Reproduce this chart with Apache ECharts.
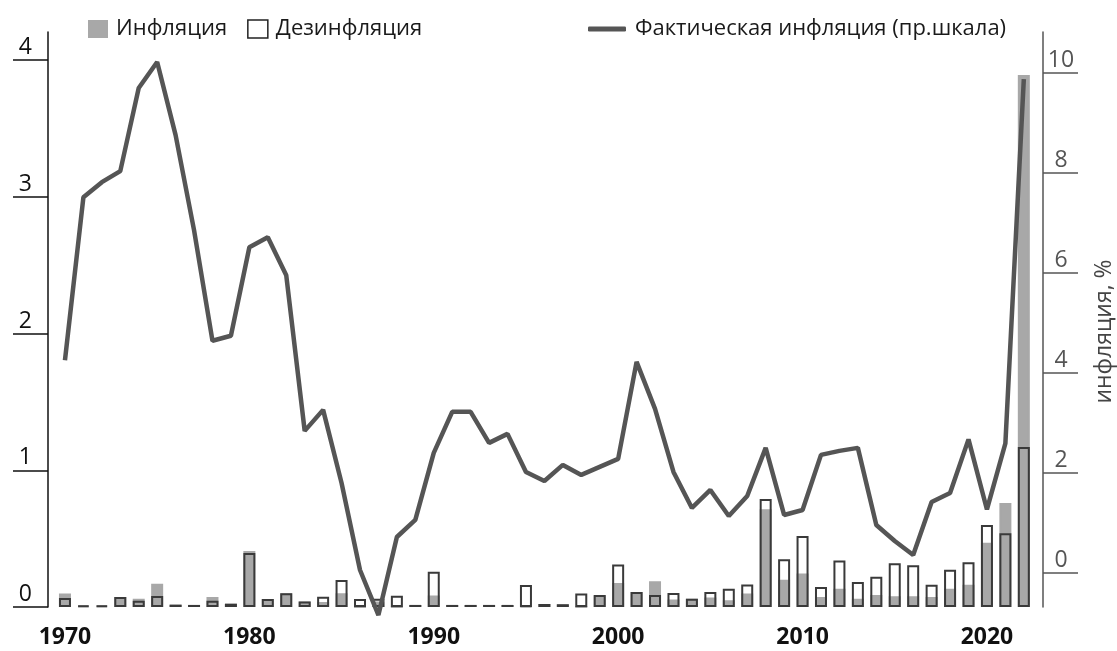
<!DOCTYPE html>
<html>
<head>
<meta charset="utf-8">
<script src="https://cdn.jsdelivr.net/npm/echarts@6/dist/echarts.min.js"></script>
<style>
  html, body { margin: 0; padding: 0; background: #fff; }
  #chart { width: 1117px; height: 651px; }
</style>
</head>
<body>
<div id="chart"></div>
<script>
// годы 1970..2022
var years = [];
for (var y = 1970; y <= 2022; y++) years.push(y);

// Инфляция (серые столбцы, левая шкала)
var inflation = [
  0.098, 0.01, 0.01, 0.073, 0.061, 0.17, 0.017, 0.015, 0.073, 0.024,
  0.41, 0.058, 0.10, 0.04, 0.037, 0.10, 0, 0.04, 0, 0.015,
  0.085, 0.015, 0.015, 0.015, 0.015, 0.005, 0.022, 0.02, 0, 0.085,
  0.176, 0.11, 0.188, 0.054, 0.061, 0.069, 0.049, 0.098, 0.715, 0.20,
  0.245, 0.073, 0.134, 0.061, 0.088, 0.078, 0.078, 0.073, 0.134, 0.163,
  0.47, 0.76, 3.89
];

// Дезинфляция (контурные столбцы, левая шкала)
var disinflation = [
  0.066, 0.01, 0.01, 0.073, 0.046, 0.08, 0.017, 0.015, 0.046, 0.024,
  0.395, 0.058, 0.10, 0.04, 0.075, 0.197, 0.058, 0.061, 0.083, 0.015,
  0.258, 0.015, 0.015, 0.015, 0.015, 0.16, 0.022, 0.02, 0.098, 0.088,
  0.31, 0.11, 0.088, 0.102, 0.061, 0.11, 0.134, 0.164, 0.79, 0.35,
  0.52, 0.147, 0.34, 0.183, 0.222, 0.32, 0.305, 0.163, 0.273, 0.327,
  0.60, 0.54, 1.17
];

// Фактическая инфляция, % (правая шкала)
var actual = [
  4.25, 7.51, 7.81, 8.03, 9.69, 10.21, 8.75, 6.85, 4.64, 4.74,
  6.51, 6.71, 5.95, 2.84, 3.26, 1.80, 0.06, -0.84, 0.72, 1.06,
  2.40, 3.22, 3.22, 2.60, 2.78, 2.02, 1.84, 2.16, 1.96, 2.12,
  2.28, 4.22, 3.28, 2.02, 1.30, 1.66, 1.14, 1.54, 2.50, 1.16,
  1.26, 2.36, 2.44, 2.50, 0.96, 0.64, 0.36, 1.42, 1.60, 2.67,
  1.27, 2.59, 9.87
];

var xLabels = [1970, 1980, 1990, 2000, 2010, 2020];
var leftTicks = [0, 1, 2, 3, 4];
var rightTicks = [0, 2, 4, 6, 8, 10];

function pairs(vals) {
  return vals.map(function (v, i) { return [years[i], v]; });
}

var font = 'Open Sans';
var chart = echarts.init(document.getElementById('chart'));

chart.setOption({
  animation: false,
  textStyle: { fontFamily: font },
  grid: { left: 48, right: 74, top: 32, bottom: 44, containLabel: false, outerBoundsMode: 'none' },
  legend: [
    {
      left: 83, top: 13,
      itemWidth: 20, itemHeight: 18, itemGap: 20,
      textStyle: { fontSize: 22, color: '#1a1a1a', fontFamily: font, padding: [0, 0, 0, 3] },
      data: [
        { name: 'Инфляция', icon: 'rect', itemStyle: { color: '#a8a8a8', borderWidth: 0 } },
        { name: 'Дезинфляция', icon: 'rect', itemStyle: { color: '#fff', borderColor: '#222', borderWidth: 1.5 } }
      ]
    },
    {
      left: 583, top: 13,
      itemWidth: 38, itemHeight: 5,
      textStyle: { fontSize: 22, color: '#1a1a1a', fontFamily: font, padding: [0, 0, 0, 4] },
      data: [{ name: 'Фактическая инфляция (пр.шкала)', icon: 'roundRect', itemStyle: { color: '#555' } }]
    }
  ],
  xAxis: {
    type: 'value',
    min: 1969.08,
    max: 2023.04,
    splitLine: { show: false },
    axisLine: { show: false },
    axisTick: { show: false },
    axisLabel: {
      customValues: xLabels,
      formatter: function (v) { return String(v); },
      fontSize: 23, fontWeight: 'bold', color: '#111', margin: 19
    }
  },
  yAxis: [
    {
      type: 'value',
      min: 0, max: 4.205,
      splitLine: { show: false },
      axisLine: { show: true, lineStyle: { color: '#111', width: 1.5 } },
      axisTick: { show: true, customValues: leftTicks, length: 35, lineStyle: { color: '#111', width: 1.5 } },
      axisLabel: {
        customValues: leftTicks,
        fontSize: 23, color: '#111', align: 'right', margin: 16,
        verticalAlign: 'bottom', padding: [0, 0, 1, 0]
      }
    },
    {
      type: 'value',
      position: 'right',
      min: -0.679, max: 10.81,
      name: 'инфляция, %',
      nameLocation: 'middle',
      nameGap: 50,
      nameRotate: 90,
      nameTextStyle: { fontSize: 23, color: '#444', fontFamily: font, padding: [0, 24, 0, 0] },
      splitLine: { show: false },
      axisLine: { show: true, lineStyle: { color: '#555', width: 1.5 } },
      axisTick: { show: true, customValues: rightTicks, length: 35, lineStyle: { color: '#555', width: 1.5 } },
      axisLabel: {
        customValues: rightTicks,
        fontSize: 23, color: '#555', align: 'center', margin: 18,
        verticalAlign: 'bottom', padding: [0, 0, 1, 0]
      }
    }
  ],
  series: [
    {
      name: 'Инфляция',
      type: 'bar',
      yAxisIndex: 0,
      barWidth: 12,
      barGap: '-100%',
      itemStyle: { color: '#a8a8a8', borderColor: '#a8a8a8', borderWidth: 2 },
      data: pairs(inflation),
      z: 2
    },
    {
      name: 'Дезинфляция',
      type: 'bar',
      yAxisIndex: 0,
      barWidth: 12,
      barGap: '-100%',
      itemStyle: { color: 'rgba(0,0,0,0)', borderColor: '#3a3a3a', borderWidth: 2 },
      data: pairs(disinflation),
      z: 3
    },
    {
      name: 'Фактическая инфляция (пр.шкала)',
      type: 'line',
      yAxisIndex: 1,
      symbol: 'none',
      clip: false,
      lineStyle: { color: '#555', width: 4.5 },
      itemStyle: { color: '#555' },
      data: pairs(actual),
      z: 5
    }
  ]
});
</script>
</body>
</html>
